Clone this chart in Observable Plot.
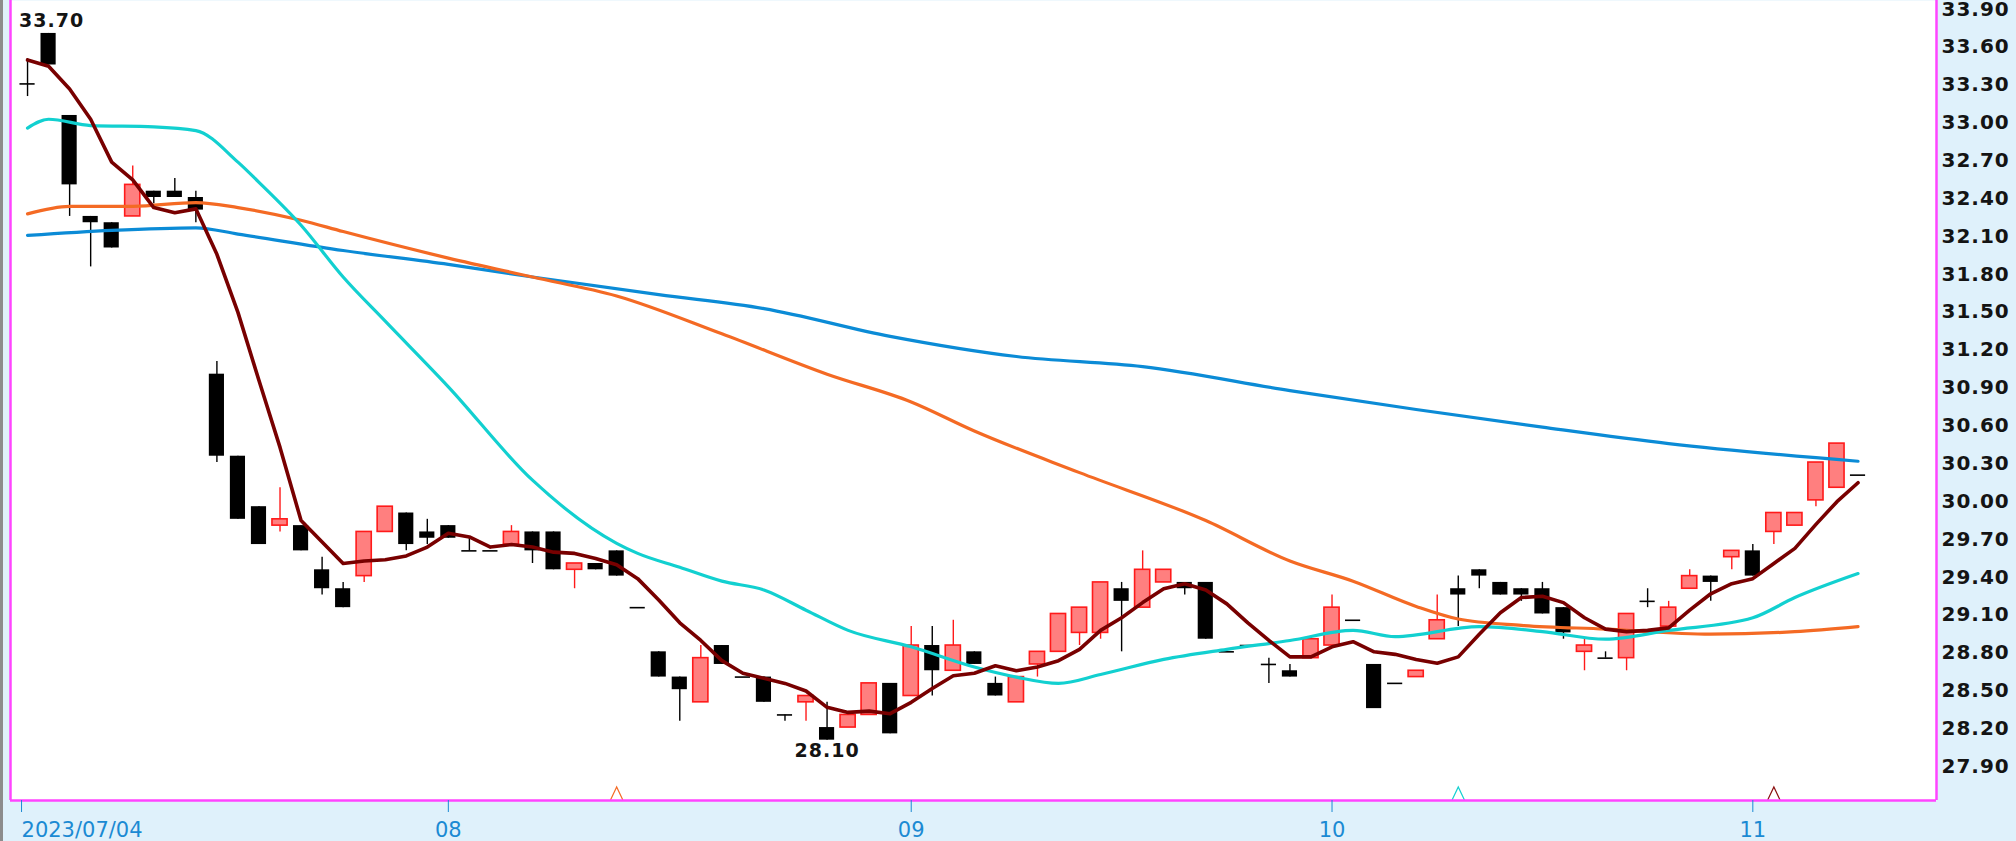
<!DOCTYPE html>
<html><head><meta charset="utf-8">
<script src="https://cdn.jsdelivr.net/npm/d3@7"></script>
<script src="https://cdn.jsdelivr.net/npm/@observablehq/plot@0.6"></script>
<style>
html,body{margin:0;padding:0;background:#dff1fb;}
#chart svg{display:block;background:linear-gradient(to right,#8c8c8c 0,#8c8c8c 3px,#dff1fb 3px) !important;}
#chart g[aria-label="y-axis tick label"] text, #chart g[aria-label="text"] text{letter-spacing:1px}
</style></head><body><div id="chart"></div>
<script>
// OHLC per trading day (index 0 = 2023/07/04)
const openP  = [33.30,33.70,33.05,32.25,32.20,32.25,32.45,32.45,32.40,31.00,30.35,29.95,29.80,29.80,29.45,29.30,29.40,29.75,29.90,29.75,
                29.80,29.60,29.60,29.65,29.75,29.75,29.45,29.50,29.60,29.15,28.80,28.60,28.40,28.85,28.60,28.60,28.30,28.40,28.20,28.20,28.30,28.55,
                28.45,28.85,28.65,28.80,28.55,28.40,28.70,28.80,28.95,28.95,29.30,29.15,29.35,29.35,29.35,28.80,28.85,28.70,28.65,28.75,
                28.85,29.05,28.70,28.55,28.60,28.90,29.30,29.45,29.35,29.30,29.30,29.15,28.80,28.75,28.75,29.20,29.00,29.30,29.40,29.55,
                29.60,29.75,29.80,30.00,30.10,30.20];
const highP  = [33.50,33.70,33.05,32.25,32.20,32.65,32.45,32.55,32.45,31.10,30.35,29.95,30.10,29.80,29.55,29.35,29.75,29.95,29.90,29.85,
                29.80,29.70,29.60,29.80,29.75,29.75,29.50,29.50,29.60,29.15,28.80,28.60,28.85,28.85,28.60,28.60,28.30,28.45,28.40,28.30,28.55,28.55,
                29.00,29.00,29.05,28.80,28.60,28.60,28.80,29.10,29.15,29.35,29.35,29.60,29.45,29.35,29.35,28.80,28.85,28.75,28.70,28.90,
                29.25,29.05,28.70,28.55,28.65,29.25,29.40,29.45,29.35,29.30,29.35,29.15,28.90,28.80,29.10,29.30,29.20,29.45,29.40,29.60,
                29.65,29.90,29.90,30.30,30.45,30.20];
const lowP   = [33.20,33.45,32.25,31.85,32.00,32.25,32.35,32.40,32.20,30.30,29.85,29.65,29.75,29.60,29.25,29.15,29.35,29.75,29.60,29.65,
                29.70,29.60,29.60,29.65,29.50,29.45,29.30,29.45,29.40,29.15,28.60,28.25,28.40,28.70,28.60,28.40,28.25,28.25,28.10,28.20,28.30,28.15,
                28.45,28.45,28.65,28.70,28.45,28.40,28.60,28.80,28.85,28.90,28.80,29.15,29.35,29.25,28.90,28.80,28.85,28.55,28.60,28.75,
                28.85,29.05,28.35,28.55,28.60,28.90,29.00,29.30,29.25,29.20,29.10,28.90,28.65,28.75,28.65,29.15,29.00,29.30,29.20,29.45,
                29.40,29.65,29.80,29.95,30.10,30.20];
const closeP = [33.30,33.45,32.50,32.20,32.00,32.50,32.40,32.40,32.30,30.35,29.85,29.65,29.85,29.60,29.30,29.15,29.75,29.95,29.65,29.70,
                29.70,29.60,29.60,29.75,29.60,29.45,29.50,29.45,29.40,29.15,28.60,28.50,28.75,28.70,28.60,28.40,28.30,28.45,28.10,28.30,28.55,28.15,
                28.85,28.65,28.85,28.70,28.45,28.60,28.80,29.10,29.15,29.35,29.20,29.45,29.45,29.30,28.90,28.80,28.85,28.70,28.60,28.90,
                29.15,29.05,28.35,28.55,28.65,29.05,29.25,29.40,29.25,29.25,29.10,28.95,28.85,28.75,29.10,29.20,29.15,29.40,29.35,29.60,
                29.40,29.90,29.90,30.30,30.45,30.20];

// 5-day moving average (dark red), one value per day
const ma5 = [33.49,33.44,33.26,33.02,32.68,32.54,32.32,32.28,32.31,31.95,31.49,30.95,30.42,29.84,29.67,29.50,29.52,29.53,29.56,29.63,
             29.74,29.71,29.63,29.65,29.63,29.59,29.58,29.54,29.49,29.38,29.21,29.03,28.89,28.73,28.63,28.59,28.55,28.49,28.36,28.32,28.33,28.31,
             28.40,28.51,28.61,28.63,28.69,28.65,28.68,28.73,28.82,28.97,29.07,29.19,29.30,29.34,29.29,29.18,29.03,28.89,28.76,28.76,
             28.84,28.88,28.80,28.78,28.74,28.71,28.76,28.94,29.11,29.23,29.24,29.19,29.07,28.98,28.96,28.97,28.99,29.13,29.26,29.34,
             29.38,29.50,29.62,29.81,29.99,30.14];
// 20-day MA (cyan)
const ma20Idx = [0,1,3,6,8,10,11,13,15,17,20,24,28,29,31,33,35,37,39,42,45,47,49,51,54,57,60,63,65,69,72,75,78,82,84,87];
const ma20Val = [32.95,33.02,32.97,32.96,32.93,32.68,32.52,32.18,31.77,31.42,30.90,30.16,29.66,29.58,29.47,29.36,29.29,29.13,28.97,28.84,28.68,28.60,28.55,28.62,28.74,28.82,28.89,28.97,28.92,29.00,28.96,28.90,28.97,29.07,29.23,29.42];
// 60-day MA (orange)
const ma60Idx = [0,2,5,8,10,13,15,20,24,28,33,38,42,45,50,56,60,63,66,68,71,75,80,84,87];
const ma60Val = [32.27,32.33,32.33,32.36,32.32,32.22,32.13,31.92,31.77,31.62,31.32,31.00,30.78,30.55,30.22,29.84,29.52,29.36,29.16,29.06,29.01,28.98,28.94,28.96,29.00];
// 120-day MA (blue)
const ma120Idx = [0,4,8,10,15,20,24,30,35,41,47,53,60,66,72,78,87];
const ma120Val = [32.10,32.14,32.16,32.11,31.98,31.87,31.77,31.63,31.52,31.30,31.14,31.06,30.87,30.72,30.58,30.45,30.31];

// crossover markers at the bottom
const markIdx = [28,68,83];
const markColor = ["#f46a24","#12d0d0","#8a1010"];

const yTicks = [27.90,28.20,28.50,28.80,29.10,29.40,29.70,30.00,30.30,30.60,30.90,31.20,31.50,31.80,32.10,32.40,32.70,33.00,33.30,33.60,33.90];
const xTickIdx = [0,20,42,62,82];
const xTickLabels = ["2023/07/04","08","09","10","11"];

const xDomain = [-0.81, 90.73];
const yDomain = [27.622, 33.961];

const rows = openP.map((o,i)=>({i, open:o, high:highP[i], low:lowP[i], close:closeP[i]}));
const up = rows.filter(d=>d.close>d.open);
const down = rows.filter(d=>d.close<d.open);
const flat = rows.filter(d=>d.close===d.open);
const hw = 0.36;
const series = (idx, val) => idx.map((i,k)=>({i, v:val[k]}));
const marks = markIdx.map((i,k)=>({i, c:markColor[k]}));
const iMax = d3.maxIndex(highP), iMin = d3.minIndex(lowP);

const caret = {draw(ctx, size){ const r = Math.sqrt(size/Math.PI); ctx.moveTo(-r*0.95, r); ctx.lineTo(0, -r); ctx.lineTo(r*0.95, r); }};

const BLUE = "#1b8ad3", MAG = "#ff44ff";
const plot = Plot.plot({
  width: 2016, height: 841,
  marginLeft: 10, marginRight: 80, marginTop: 0, marginBottom: 41,
  x: {domain: xDomain, axis: null},
  y: {domain: yDomain, axis: null},
  color: {type: "identity"},
  style: {background: "transparent", fontFamily: "DejaVu Sans", overflow: "visible"},
  marks: [
    Plot.frame({fill: "white", stroke: null}),
    Plot.ruleX(rows, {x: "i", y1: "low", y2: "high", stroke: d => d.close > d.open ? "#ff1a1a" : "#000000", strokeWidth: 1.4}),
    Plot.rect(down, {x1: d => d.i - hw, x2: d => d.i + hw, y1: "open", y2: "close", fill: "#000000"}),
    Plot.rect(up, {x1: d => d.i - hw, x2: d => d.i + hw, y1: "open", y2: "close", fill: "#ff7f7f", stroke: "#ff1a1a", strokeWidth: 1.6}),
    Plot.ruleY(flat, {y: "close", x1: d => d.i - hw, x2: d => d.i + hw, stroke: "#000000", strokeWidth: 1.6}),
    Plot.line(series(ma120Idx, ma120Val), {x: "i", y: "v", stroke: "#0b8bd6", strokeWidth: 3.2, curve: "monotone-x"}),
    Plot.line(series(ma60Idx, ma60Val), {x: "i", y: "v", stroke: "#f46a24", strokeWidth: 3.2, curve: "monotone-x"}),
    Plot.line(series(ma20Idx, ma20Val), {x: "i", y: "v", stroke: "#12d0d0", strokeWidth: 3.2, curve: "monotone-x"}),
    Plot.line(ma5.map((v,i)=>({i, v})), {x: "i", y: "v", stroke: "#780000", strokeWidth: 3.6}),
    Plot.dot(marks, {x: "i", frameAnchor: "bottom", dy: -7, r: 6.5, symbol: caret, stroke: "c", fill: "none", strokeWidth: 1.2}),
    Plot.text([rows[iMax]], {x: "i", y: "high", text: d => d.high.toFixed(2), dy: -13, dx: 3, fontSize: 19, fontWeight: "bold", fill: "#141414"}),
    Plot.text([rows[iMin]], {x: "i", y: "low", text: d => d.low.toFixed(2), dy: 11, fontSize: 19, fontWeight: "bold", fill: "#141414"}),
    Plot.ruleX([xDomain[0], xDomain[1]], {stroke: MAG, strokeWidth: 2.5}),
    Plot.ruleY([yDomain[0]], {stroke: MAG, strokeWidth: 2.5}),
    Plot.axisY({anchor: "right", label: null, ticks: yTicks, tickSize: 0, tickPadding: 5, tickFormat: d3.format(".2f"), fontSize: 20, fontWeight: "bold", fill: "#141414", textAnchor: "start", dy: 1}),
    Plot.axisX({anchor: "bottom", label: null, ticks: [xTickIdx[0]], tickFormat: () => xTickLabels[0], tickSize: 12, tickPadding: 10, color: BLUE, fontSize: 21, textAnchor: "start", dx: -6}),
    Plot.axisX({anchor: "bottom", label: null, ticks: xTickIdx.slice(1), tickFormat: d => xTickLabels[xTickIdx.indexOf(d)], tickSize: 12, tickPadding: 10, color: BLUE, fontSize: 21})
  ]
});
document.getElementById("chart").appendChild(plot);
</script></body></html>
